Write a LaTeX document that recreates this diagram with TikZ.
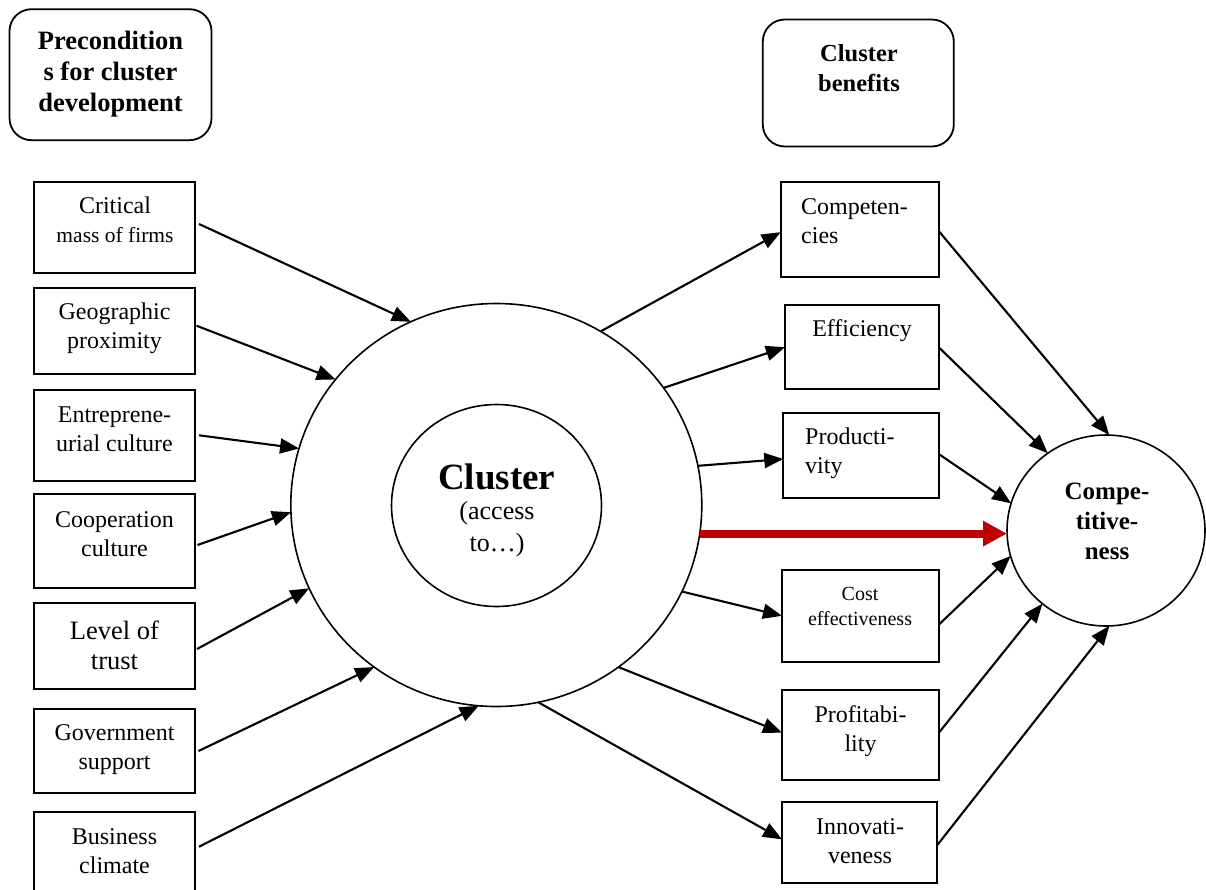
\documentclass[tikz,border=0pt]{standalone}
\usepackage{fontspec}
\setmainfont{Liberation Serif}
\usetikzlibrary{arrows.meta,shapes.geometric}
\definecolor{accentred}{HTML}{C00000}

\begin{document}
\begin{tikzpicture}[x=1pt,y=-1pt,
  box/.style={draw, line width=1.8pt, inner sep=0pt, outer sep=0pt},
  headbox/.style={box, rounded corners=22pt},
  ring/.style={draw, ellipse, line width=1.6pt, inner sep=0pt, outer sep=0pt},
  txt/.style={align=center, inner sep=0pt, font=\fontsize{24}{29}\selectfont},
  flow/.style={-{Triangle[length=19pt,width=15pt]}, line width=2.1pt},
  mainflow/.style={-{Triangle[length=24pt,width=24pt]}, line width=8pt, draw=accentred, fill=accentred}]

\clip (0,0) rectangle (1206,889);
\fill[white] (0,0) rectangle (1206,889);

% column headings
\node[headbox, minimum width=202pt, minimum height=131pt] (pre) at (110.5,74.7) {};
\node[txt, font=\fontsize{26.5}{31}\selectfont\bfseries] (pre-t) at (110.5,74) {Precondition\\s for cluster\\development};
\node[headbox, minimum width=191pt, minimum height=127pt] (ben) at (858.3,83) {};
\node[txt, font=\fontsize{24.5}{30}\selectfont\bfseries] (ben-t) at (859,68.5) {Cluster\\benefits};

% preconditions
\tikzset{lbox/.style={box, minimum width=161pt}}
\node[lbox, minimum height=91pt] (crit) at (114.5,227.5) {};
\node[txt] (crit-t) at (115,220) {Critical\\\fontsize{21.5}{27}\selectfont mass of firms};
\node[lbox, minimum height=86pt] (geo) at (114.5,331.3) {};
\node[txt] (geo-t) at (114.5,328.5) {Geographic\\proximity};
\node[lbox, minimum height=90.7pt] (ent) at (114.5,435.3) {};
\node[txt] (ent-t) at (114.5,429.5) {Entreprene-\\urial culture};
\node[lbox, minimum height=94pt] (coop) at (114.5,541.3) {};
\node[txt] (coop-t) at (114.5,534.5) {Cooperation\\culture};
\node[lbox, minimum height=86pt] (trust) at (114.5,645.7) {};
\node[txt, font=\fontsize{26.5}{30}\selectfont] (trust-t) at (114.5,645.5) {Level of\\trust};
\node[lbox, minimum height=84pt] (gov) at (114.5,751) {};
\node[txt] (gov-t) at (114.5,750) {Government\\support};
\node[lbox, minimum height=83.4pt] (bus) at (114.5,853.4) {};
\node[txt] (bus-t) at (114.5,851.5) {Business\\climate};

% cluster
\node[ring, minimum width=411pt, minimum height=403pt] (big) at (496.3,505) {};
\node[ring, minimum width=210pt, minimum height=202pt] (core) at (496.5,505.5) {};
\node[txt, font=\fontsize{37}{40}\selectfont\bfseries] (core-t) at (496.7,477) {Cluster};
\node[txt, font=\fontsize{26}{32}\selectfont] (core-s) at (497,529.5) {(access\\to\ldots)};

% benefits
\node[box, minimum width=158pt, minimum height=95pt] (cmp) at (859.7,229.2) {};
\node[txt, align=left, anchor=west] (cmp-t) at (801,221) {Competen-\\cies};
\node[box, minimum width=153.7pt, minimum height=84.3pt] (eff) at (861.8,347.2) {};
\node[txt] (eff-t) at (862,331) {Efficiency};
\node[box, minimum width=155.4pt, minimum height=84.7pt] (prd) at (861,455.7) {};
\node[txt, align=left, anchor=west] (prd-t) at (805,453.5) {Producti-\\vity};
\node[box, minimum width=156.7pt, minimum height=91.7pt] (cst) at (860.3,615.8) {};
\node[txt, font=\fontsize{20}{25}\selectfont] (cst-t) at (860,606) {Cost\\effectiveness};
\node[box, minimum width=156.7pt, minimum height=90pt] (prf) at (860.3,735) {};
\node[txt] (prf-t) at (860.5,731) {Profitabi-\\lity};
\node[box, minimum width=155.3pt, minimum height=81.3pt] (inn) at (859.7,842.7) {};
\node[txt] (inn-t) at (860,841.5) {Innovati-\\veness};

% outcome
\node[ring, minimum width=198pt, minimum height=191pt] (compet) at (1106,530.5) {};
\node[txt, font=\fontsize{25}{30}\selectfont\bfseries] (compet-t) at (1107,521.5) {Compe-\\titive-\\ness};

% preconditions feed the cluster
\draw[flow] ([xshift=4pt,yshift=3.5pt]crit.east) -- (big.115.8);
\draw[flow] ([xshift=1.5pt,yshift=5.6pt]geo.east) -- (big.142.8);
\draw[flow] ([xshift=4pt]ent.east) -- (big.164.8);
\draw[flow] ([xshift=2.5pt,yshift=-3.7pt]coop.east) -- (big.182.6);
\draw[flow] ([xshift=2pt,yshift=-3.3pt]trust.east) -- (big.204.8);
\draw[flow] ([xshift=3.5pt]gov.east) -- (big.233.4);
\draw[flow] ([xshift=4pt,yshift=6.7pt]bus.east) -- (big.265);

% cluster yields benefits
\draw[flow] (big.59.9) -- ([yshift=-3pt]cmp.west);
\draw[flow] (big.35.2) -- (eff.west);
\draw[flow] (big.11.7) -- ([yshift=-3.3pt]prd.west);
\draw[flow] (big.335.7) -- (cst.west);
\draw[flow] (big.307.4) -- ([yshift=2.3pt]prf.west);
\draw[flow] (big.282.2) -- ([yshift=3.4pt]inn.west);

% benefits build competitiveness
\draw[flow] ([yshift=-1.8pt]cmp.east) -- (compet.88.8);
\draw[flow] (eff.east) -- (compet.127.7);
\draw[flow] ([yshift=1.7pt]prd.east) -- (compet.164.7);
\draw[flow] ([yshift=-9pt]cst.east) -- (compet.195.3);
\draw[flow] ([yshift=2pt]prf.east) -- (compet.229);
\draw[flow] ([yshift=-2.3pt]inn.east) -- (compet.272);

% direct effect
\draw[mainflow] (big.352.5) -- (big.352.5 -| compet.west);
\end{tikzpicture}
\end{document}
